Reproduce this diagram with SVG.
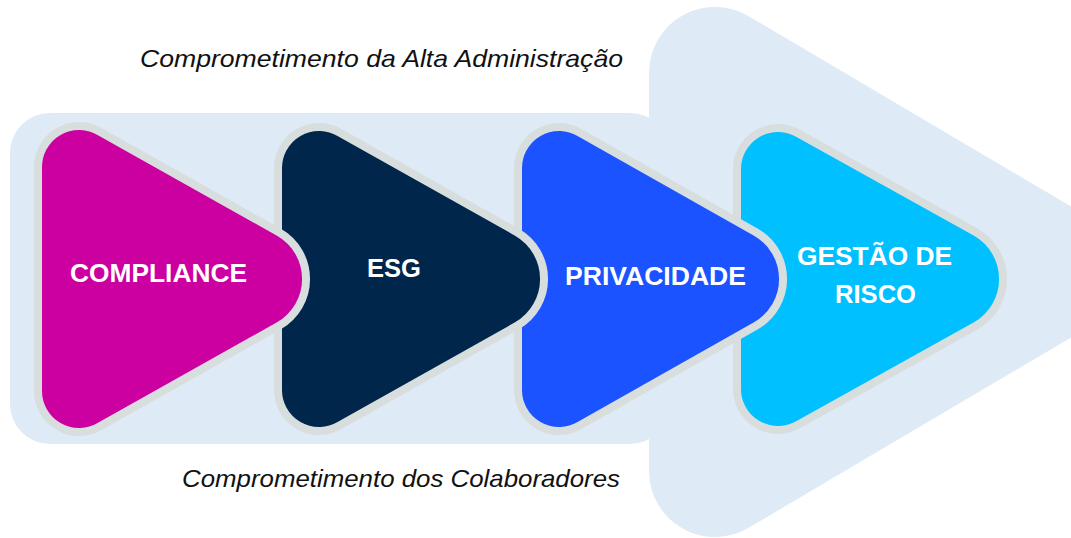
<svg xmlns="http://www.w3.org/2000/svg" width="1071" height="538" viewBox="0 0 1071 538">
<style>
.bg{fill:#DEEAF5}
.tri{stroke:#D8DEDE;stroke-width:8;stroke-linejoin:round}
.lbl{font-family:"Liberation Sans",Arial,sans-serif;font-weight:bold;font-size:26px;fill:#FFFFFF}
.cap{font-family:"Liberation Sans",Arial,sans-serif;font-style:italic;font-size:24px;fill:#111111}
</style>
<g id="background">
<rect class="bg" x="10" y="113" width="660" height="331" rx="40" ry="40"/>
<path class="bg" d="M715,73 L1052,272 L715,471 Z" stroke="#DEEAF5" stroke-width="132" stroke-linejoin="round"/>
</g>
<text class="cap" x="140" y="66.5" textLength="483" lengthAdjust="spacingAndGlyphs">Comprometimento da Alta Administração</text>
<text class="cap" x="182" y="487" textLength="438" lengthAdjust="spacingAndGlyphs">Comprometimento dos Colaboradores</text>
<g id="connectors"></g>
<g id="node-gestao">
<path class="tri" fill="#00C0FF" d="M737,169 A41,41 0 0 1 798.5,133.5 L976,232.2 A54,54 0 0 1 976,325.8 L798.5,424.5 A41,41 0 0 1 737,389 Z"/>
<text class="lbl" x="797" y="265" textLength="155" lengthAdjust="spacingAndGlyphs">GESTÃO DE</text>
<text class="lbl" x="835" y="303" textLength="81" lengthAdjust="spacingAndGlyphs">RISCO</text>
</g>
<g id="node-privacidade">
<path class="tri" fill="#1A53FF" d="M518,168 A41,41 0 0 1 579.5,132.5 L756,232.2 A54,54 0 0 1 756,325.8 L579.5,425.5 A41,41 0 0 1 518,390 Z"/>
<text class="lbl" x="565" y="285" textLength="181" lengthAdjust="spacingAndGlyphs">PRIVACIDADE</text>
</g>
<g id="node-esg">
<path class="tri" fill="#00264B" d="M278,168 A41,41 0 0 1 339.5,132.5 L517,232.2 A54,54 0 0 1 517,325.8 L339.5,425.5 A41,41 0 0 1 278,390 Z"/>
<text class="lbl" x="367" y="277" textLength="54" lengthAdjust="spacingAndGlyphs">ESG</text>
</g>
<g id="node-compliance">
<path class="tri" fill="#CC00A0" d="M38,167 A41,41 0 0 1 99.5,131.5 L279,232.2 A54,54 0 0 1 279,325.8 L99.5,426.5 A41,41 0 0 1 38,391 Z"/>
<text class="lbl" x="70" y="282" textLength="177" lengthAdjust="spacingAndGlyphs">COMPLIANCE</text>
</g>
</svg>
